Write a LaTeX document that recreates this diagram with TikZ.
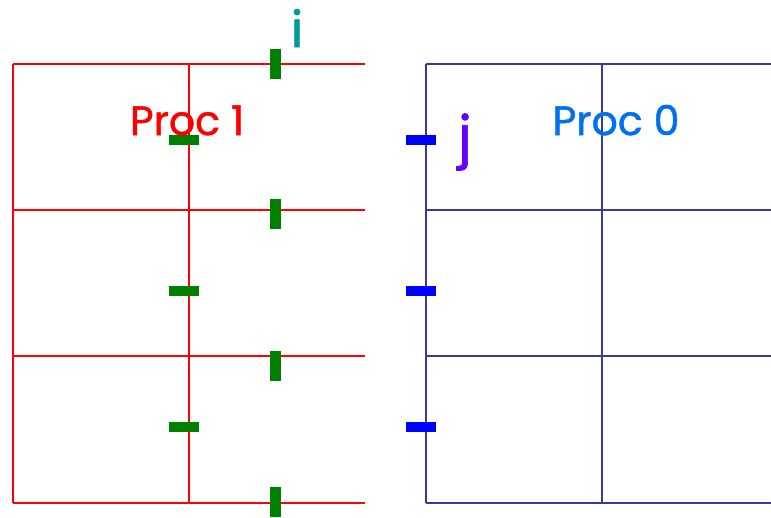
\documentclass[tikz,border=0pt]{standalone}
\usepackage{fontspec}
\setmainfont{Poppins}
\newfontfamily\labelfont[FakeBold=1.2]{Poppins}
\definecolor{gridred}{HTML}{FF0000}
\definecolor{gridblue}{HTML}{3A3A9C}
\definecolor{tickgreen}{HTML}{008000}
\definecolor{tickblue}{HTML}{0000FF}
\definecolor{procblue}{HTML}{0070F0}
\definecolor{iteal}{HTML}{009999}
\definecolor{jviolet}{HTML}{6600FF}
\tikzset{
  redgrid/.style={draw=gridred, line width=2.8pt},
  bluegrid/.style={draw=gridblue, line width=2.8pt},
  vtick/.style={fill=tickgreen},
  htick/.style={fill=tickgreen},
  btick/.style={fill=tickblue},
  lbl/.style={inner sep=0pt, anchor=base},
}
\begin{document}
\begin{tikzpicture}[x=1pt,y=-1pt]
\useasboundingbox (0,0) rectangle (771,517);
% red grid (Proc 1)
\foreach \yy in {64,210,356,503} \draw[redgrid] (13,\yy) -- (365,\yy);
\draw[redgrid] (13,64) -- (13,503);
\draw[redgrid] (189,64) -- (189,503);
% blue grid (Proc 0)
\foreach \yy in {64,210,356,503} \draw[bluegrid] (426,\yy) -- (771,\yy);
\draw[bluegrid] (426,64) -- (426,503);
\draw[bluegrid] (602,64) -- (602,503);
% green vertical ticks
\foreach \yy in {64,214,366,502} \fill[vtick] (270,\yy-15) rectangle (281,\yy+15);
% green horizontal ticks
\foreach \yy in {140,291,427} \fill[htick] (169,\yy-5) rectangle (199,\yy+5);
% blue ticks
\foreach \yy in {140,291,427} \fill[btick] (406,\yy-5) rectangle (436,\yy+5);
% labels
\node[lbl, text=gridred, font=\labelfont\fontsize{41}{41}\selectfont] (p1) at (187,135) {Proc 1};
\node[lbl, text=procblue, font=\labelfont\fontsize{41}{41}\selectfont] (p0) at (616,135) {Proc 0};
\node[lbl, text=iteal, font=\labelfont\fontsize{50}{50}\selectfont] (i) at (297,47) {i};
\node[lbl, text=jviolet, font=\labelfont\fontsize{56}{56}\selectfont] (j) at (465,156) {j};
\end{tikzpicture}
\end{document}
